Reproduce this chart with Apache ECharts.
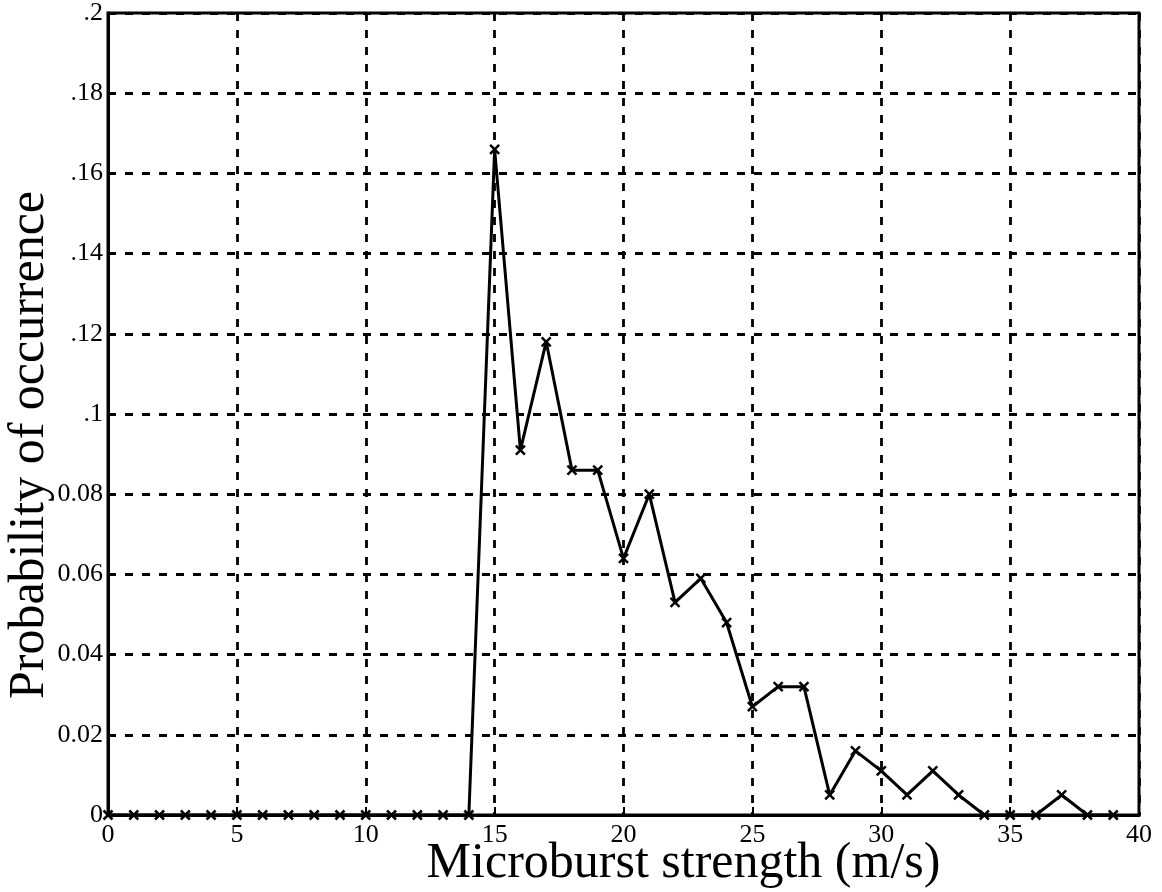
<!DOCTYPE html>
<html>
<head>
<meta charset="utf-8">
<script src="https://cdn.jsdelivr.net/npm/echarts@6/dist/echarts.min.js"></script>
<style>
	html, body { margin: 0; padding: 0; background: #fff; }
	#main { width: 1162px; height: 892px; }
</style>
</head>
<body>
<div id="main"></div>
<script>
// microburst strength (m/s)
var strength = [0, 1, 2, 3, 4, 5, 6, 7, 8, 9, 10, 11, 12, 13, 14, 15, 16, 17, 18, 19,
	20, 21, 22, 23, 24, 25, 26, 27, 28, 29, 30, 31, 32, 33, 34, 35, 36, 37, 38, 39];
// probability of occurrence
var probability = [0, 0, 0, 0, 0, 0, 0, 0, 0, 0, 0, 0, 0, 0, 0, 0.166, 0.091, 0.118, 0.086, 0.086,
	0.064, 0.080, 0.053, 0.059, 0.048, 0.027, 0.032, 0.032, 0.005, 0.016, 0.011, 0.005, 0.011, 0.005, 0, 0, 0, 0.005, 0, 0];
var yTickLabels = ['0', '0.02', '0.04', '0.06', '0.08', '.1', '.12', '.14', '.16', '.18', '.2'];

var font = '"Liberation Serif", "DejaVu Serif", serif';

var points = [];
for (var i = 0; i < strength.length; i++) {
	points.push([strength[i], probability[i]]);
}

var gridLine = {
	show: true,
	lineStyle: {
		color: '#000',
		width: 2.8,
		type: [8, 9]
	}
};

var chart = echarts.init(document.getElementById('main'));
chart.setOption({
	backgroundColor: '#fff',
	animation: false,
	grid: {
		left: 108,
		right: 23,
		top: 13,
		bottom: 77,
		outerBoundsMode: 'none',
		containLabel: false,
		show: true,
		borderColor: '#000',
		borderWidth: 3
	},
	xAxis: {
		type: 'value',
		min: 0,
		max: 40,
		interval: 5,
		name: 'Microburst strength (m/s)',
		nameLocation: 'middle',
		nameGap: 24,
		nameMoveOverlap: false,
		nameTextStyle: { fontFamily: font, fontSize: 50, color: '#000', padding: [0, 0, 0, 120] },
		axisLine: { show: true, lineStyle: { color: '#000', width: 3 } },
		axisTick: { show: true, inside: true, length: 8, lineStyle: { color: '#000', width: 2 } },
		axisLabel: { fontFamily: font, fontSize: 26, color: '#000', margin: 7 },
		splitLine: gridLine
	},
	yAxis: {
		type: 'value',
		min: 0,
		max: 0.2,
		interval: 0.02,
		name: 'Probability of occurrence',
		nameLocation: 'middle',
		nameGap: 53,
		nameMoveOverlap: false,
		nameTextStyle: { fontFamily: font, fontSize: 50, color: '#000', padding: [0, 62, 0, 0] },
		axisLine: { show: true, lineStyle: { color: '#000', width: 3 } },
		axisTick: { show: true, inside: true, length: 8, lineStyle: { color: '#000', width: 2 } },
		axisLabel: {
			fontFamily: font,
			fontSize: 26,
			color: '#000',
			margin: 5,
			formatter: function(v) {
				return yTickLabels[Math.round(v / 0.02)];
			}
		},
		splitLine: gridLine
	},
	series: [{
		type: 'line',
		data: points,
		symbol: 'path://M0,0L10,10M10,0L0,10',
		symbolSize: 9,
		showAllSymbol: true,
		lineStyle: { color: '#000', width: 3 },
		itemStyle: { color: '#000', borderColor: '#000', borderWidth: 2.5 }
	}]
});
</script>
</body>
</html>
